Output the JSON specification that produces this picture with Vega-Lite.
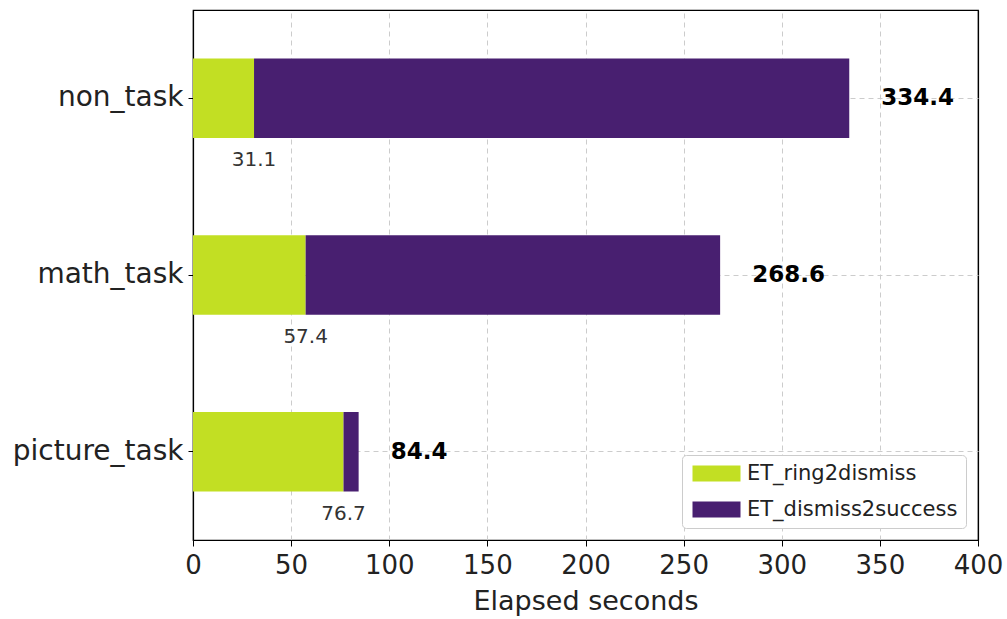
{
  "$schema": "https://vega.github.io/schema/vega-lite/v6.json",
  "autosize": "none",
  "width": 785,
  "height": 530,
  "padding": {"left": 193, "top": 10, "right": 29, "bottom": 79},
  "background": "white",
  "config": {
    "font": "DejaVu Sans",
    "view": {"stroke": "black", "strokeWidth": 1.2},
    "axis": {"labelFont": "DejaVu Sans", "titleFont": "DejaVu Sans", "labelColor": "#222", "titleColor": "#222", "titleFontWeight": "normal", "domainColor": "black", "domainWidth": 1.2, "tickColor": "black", "gridColor": "#cccccc", "gridDash": [5, 4], "gridWidth": 1},
    "axisX": {
      "gridColor": {"condition": {"test": "datum.value === 400", "value": "black"}, "value": "#cccccc"},
      "gridDash": {"condition": {"test": "datum.value === 400", "value": []}, "value": [5, 4]},
      "gridWidth": {"condition": {"test": "datum.value === 400", "value": 1.2}, "value": 1}
    }
  },
  "data": {
    "values": [
      {"task": "non_task", "segment": "ET_ring2dismiss", "value": 31.1},
      {"task": "non_task", "segment": "ET_dismiss2success", "value": 303.3},
      {"task": "math_task", "segment": "ET_ring2dismiss", "value": 57.4},
      {"task": "math_task", "segment": "ET_dismiss2success", "value": 211.2},
      {"task": "picture_task", "segment": "ET_ring2dismiss", "value": 76.7},
      {"task": "picture_task", "segment": "ET_dismiss2success", "value": 7.7}
    ]
  },
  "encoding": {
    "y": {
      "field": "task", "type": "nominal",
      "sort": ["non_task", "math_task", "picture_task"],
      "scale": {"paddingInner": 0.55, "paddingOuter": 0.275},
      "axis": {"title": null, "labelFontSize": 28, "labelPadding": 5, "tickSize": 5, "tickBand": "center", "grid": true, "domain": true}
    }
  },
  "layer": [
    {
      "mark": {"type": "bar"},
      "encoding": {
        "x": {
          "field": "value", "type": "quantitative", "aggregate": "sum", "stack": "zero",
          "scale": {"domain": [0, 400], "nice": false},
          "axis": {"title": "Elapsed seconds", "titleFontSize": 27, "labelFontSize": 26, "values": [0, 50, 100, 150, 200, 250, 300, 350, 400], "labelPadding": 6, "tickSize": 6, "titlePadding": 10, "grid": true, "domain": true, "labelFlush": false}
        },
        "color": {
          "field": "segment", "type": "nominal",
          "scale": {"domain": ["ET_ring2dismiss", "ET_dismiss2success"], "range": ["#c2df23", "#481f70"]},
          "legend": {
            "title": null, "orient": "bottom-right", "offset": 12,
            "fillColor": "white", "strokeColor": "#cccccc", "cornerRadius": 4, "padding": 8,
            "symbolType": "M-3,-1H3V1H-3Z", "symbolSize": 256, "symbolStrokeWidth": 0, "symbolOffset": 16,
            "labelFontSize": 21, "labelFont": "DejaVu Sans", "labelColor": "#222", "labelLimit": 400, "rowPadding": 14, "labelOffset": 20
          }
        },
        "order": {"field": "segment", "sort": "descending"}
      }
    },
    {
      "transform": [{"aggregate": [{"op": "sum", "field": "value", "as": "total"}], "groupby": ["task"]}],
      "mark": {"type": "text", "align": "left", "baseline": "middle", "dx": 32, "fontSize": 23, "fontWeight": "bold", "color": "black"},
      "encoding": {
        "x": {"field": "total", "type": "quantitative", "axis": {"title": "Elapsed seconds", "titleFontSize": 27, "labelFontSize": 26, "values": [0, 50, 100, 150, 200, 250, 300, 350, 400], "labelPadding": 6, "tickSize": 6, "titlePadding": 10, "grid": true, "domain": true, "labelFlush": false}},
        "text": {"field": "total", "type": "quantitative", "format": ".1f"}
      }
    },
    {
      "transform": [{"filter": "datum.segment === 'ET_ring2dismiss'"}],
      "mark": {"type": "text", "align": "center", "baseline": "middle", "dy": 62, "fontSize": 20, "color": "#333"},
      "encoding": {
        "x": {"field": "value", "type": "quantitative", "axis": {"title": "Elapsed seconds", "titleFontSize": 27, "labelFontSize": 26, "values": [0, 50, 100, 150, 200, 250, 300, 350, 400], "labelPadding": 6, "tickSize": 6, "titlePadding": 10, "grid": true, "domain": true, "labelFlush": false}},
        "text": {"field": "value", "type": "quantitative", "format": ".1f"}
      }
    }
  ]
}
